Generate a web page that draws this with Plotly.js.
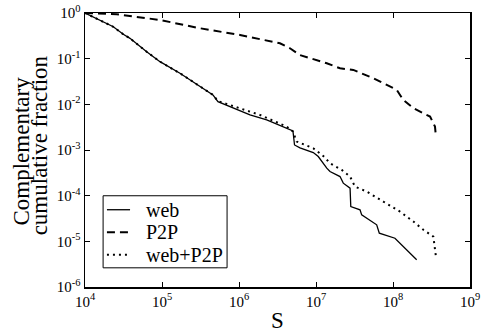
<!DOCTYPE html>
<html>
<head>
<meta charset="utf-8">
<script src="https://cdn.plot.ly/plotly-3.0.1.min.js"></script>
<style>
html,body{margin:0;padding:0;background:#fff;}
#chart{width:488px;height:335px;}
#chart svg text{font-family:"Liberation Serif","Times New Roman",serif !important;}
</style>
</head>
<body>
<div id="chart"></div>
<script>
// Data (S, complementary cumulative fraction)
const webS = [1e4, 2.33e4, 3.14e4, 3.84e4, 6.32e4, 9.42e4, 1.71e5, 2.96e5, 4.59e5, 5.33e5, 8.43e5, 1.39e6, 2.29e6, 3.76e6, 4.83e6, 5.02e6, 5.26e6, 6.19e6, 9.22e6, 1.07e7, 1.38e7, 1.52e7, 2.05e7, 2.26e7, 2.77e7, 2.83e7, 3.73e7, 3.92e7, 6.14e7, 6.64e7, 1.06e8, 2.03e8];
const webF = [1, 0.50, 0.342, 0.279, 0.142, 0.086, 0.048, 0.0266, 0.0161, 0.01146, 0.00822, 0.00586, 0.00456, 0.00325, 0.00275, 0.00262, 0.00129, 0.00111, 0.000877, 0.000718, 0.000400, 0.000337, 0.000262, 0.000188, 0.000146, 5.77e-5, 4.89e-5, 3.80e-5, 2.30e-5, 1.51e-5, 1.17e-5, 3.94e-6];

const p2pS = [1e4, 2.58e4, 9.42e4, 3.12e5, 1.03e6, 3.40e6, 4.59e6, 6.19e6, 1.38e7, 2.05e7, 3.05e7, 5.54e7, 1.12e8, 1.36e8, 1.84e8, 3.03e8, 3.51e8, 3.61e8];
const p2pF = [1, 0.937, 0.703, 0.463, 0.330, 0.217, 0.169, 0.120, 0.0793, 0.0616, 0.0566, 0.0373, 0.0207, 0.0125, 0.00822, 0.00539, 0.00325, 0.00196];

const bothS = [1e4, 2.33e4, 3.14e4, 3.84e4, 6.32e4, 9.42e4, 1.71e5, 2.96e5, 4.59e5, 5.33e5, 8.41e5, 1.87e6, 4.16e6, 5.02e6, 5.61e6, 6.78e6, 9.22e6, 1.24e7, 1.52e7, 2.16e7, 2.77e7, 3.21e7, 4.55e7, 7.48e7, 1.23e8, 1.84e8, 2.48e8, 3.34e8, 3.51e8, 3.61e8];
const bothF = [1, 0.50, 0.342, 0.279, 0.142, 0.086, 0.048, 0.0266, 0.0161, 0.0118, 0.00923, 0.00586, 0.00325, 0.00253, 0.00153, 0.00136, 0.00109, 0.000743, 0.000514, 0.000367, 0.000262, 0.000158, 0.000123, 7.43e-5, 4.49e-5, 2.71e-5, 1.79e-5, 1.27e-5, 6.52e-6, 4.65e-6];

const seriesNames = ['web', 'P2P', 'web+P2P'];
const xTickVals = [1e4, 1e5, 1e6, 1e7, 1e8, 1e9];
const xTickText = ['10<sup>4</sup>', '10<sup>5</sup>', '10<sup>6</sup>', '10<sup>7</sup>', '10<sup>8</sup>', '10<sup>9</sup>'];
const yTickVals = [1e-6, 1e-5, 1e-4, 1e-3, 1e-2, 1e-1, 1];
const yTickText = ['10<sup>-6</sup>', '10<sup>-5</sup>', '10<sup>-4</sup>', '10<sup>-3</sup>', '10<sup>-2</sup>', '10<sup>-1</sup>', '10<sup>0</sup>'];

const FONT = '"Liberation Serif", "Times New Roman", serif';
const lineStyles = [
  {color: '#000', width: 1.3},
  {color: '#000', width: 2, dash: '8px,5px'},
  {color: '#000', width: 2, dash: '2px,4px'}
];

const traces = [
  {x: webS, y: webF, name: seriesNames[0], mode: 'lines', line: lineStyles[0]},
  {x: p2pS, y: p2pF, name: seriesNames[1], mode: 'lines', line: lineStyles[1]},
  {x: bothS, y: bothF, name: seriesNames[2], mode: 'lines', line: lineStyles[2]}
];

const axisCommon = {
  type: 'log', showgrid: false, zeroline: false,
  showline: true, linecolor: '#000', linewidth: 1.5, mirror: 'ticks',
  ticks: 'inside', ticklen: 5, tickwidth: 1, tickcolor: '#000',
  tickmode: 'array', tickfont: {family: FONT, size: 15, color: '#000'}
};

// Legend box drawn as layout decoration (paper coordinates)
const legBox = {x0: 0.047, x1: 0.369, y0: 0.070, y1: 0.333};
const legRowsY = [0.282, 0.200, 0.118];
const legLineX = [0.057, 0.117];
const legTextX = 0.152;

const shapes = [
  {type: 'rect', xref: 'paper', yref: 'paper', x0: legBox.x0, x1: legBox.x1, y0: legBox.y0, y1: legBox.y1,
   line: {color: '#000', width: 1}, fillcolor: '#fff', layer: 'above'}
];
const annotations = [
  {text: 'Complementary', xref: 'paper', yref: 'paper', x: -0.1649, y: 0.4964, xanchor: 'center', yanchor: 'middle', textangle: -90, showarrow: false, font: {family: FONT, size: 23, color: '#000'}},
  {text: 'cumulative fraction', xref: 'paper', yref: 'paper', x: -0.1182, y: 0.5188, xanchor: 'center', yanchor: 'middle', textangle: -90, showarrow: false, font: {family: FONT, size: 23, color: '#000'}},
  {text: 'S', xref: 'paper', yref: 'paper', x: 0.5, y: -0.123, xanchor: 'center', yanchor: 'middle', showarrow: false, font: {family: FONT, size: 23, color: '#000'}}
];
seriesNames.forEach((nm, i) => {
  shapes.push({type: 'line', xref: 'paper', yref: 'paper', x0: legLineX[0], x1: legLineX[1], y0: legRowsY[i], y1: legRowsY[i],
    line: lineStyles[i], layer: 'above'});
  annotations.push({text: nm, xref: 'paper', yref: 'paper', x: legTextX, y: legRowsY[i], xanchor: 'left', yanchor: 'middle',
    showarrow: false, font: {family: FONT, size: 20, color: '#000'}});
});

const layout = {
  width: 488, height: 335,
  margin: {l: 85, r: 18, t: 13, b: 48},
  paper_bgcolor: '#fff', plot_bgcolor: '#fff',
  font: {family: FONT, color: '#000'},
  xaxis: Object.assign({}, axisCommon, {range: [4, 9], tickvals: xTickVals, ticktext: xTickText}),
  yaxis: Object.assign({}, axisCommon, {range: [-6, 0], tickvals: yTickVals, ticktext: yTickText}),
  showlegend: false,
  shapes: shapes,
  annotations: annotations
};

Plotly.newPlot('chart', traces, layout, {staticPlot: true, displayModeBar: false});
</script>
</body>
</html>
